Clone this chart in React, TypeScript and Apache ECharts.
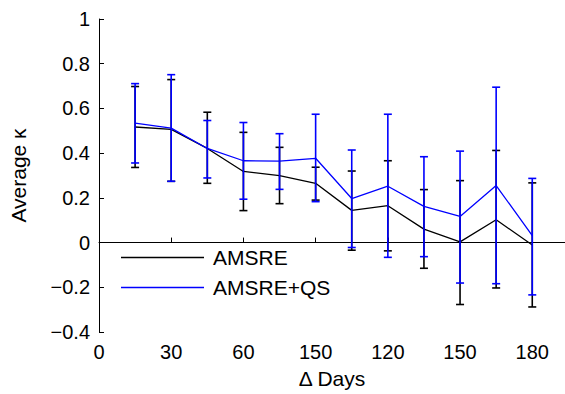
import React, { useEffect, useRef } from "react";
import * as echarts from "echarts";

const days = [15, 30, 45, 60, 75, 90, 105, 120, 135, 150, 165, 180];
const amsre = [0.517, 0.506, 0.421, 0.318, 0.299, 0.265, 0.144, 0.165, 0.06, 0.003, 0.102, -0.011];
const amsreLow = [0.336, 0.274, 0.265, 0.143, 0.174, 0.19, -0.034, -0.037, -0.115, -0.277, -0.203, -0.288];
const amsreHigh = [0.698, 0.729, 0.583, 0.493, 0.426, 0.337, 0.32, 0.366, 0.237, 0.277, 0.412, 0.267];
const amsreQs = [0.534, 0.512, 0.421, 0.366, 0.364, 0.377, 0.197, 0.252, 0.162, 0.117, 0.255, 0.031];
const amsreQsLow = [0.356, 0.274, 0.289, 0.194, 0.238, 0.183, -0.022, -0.066, -0.063, -0.181, -0.184, -0.234];
const amsreQsHigh = [0.711, 0.751, 0.546, 0.537, 0.487, 0.574, 0.414, 0.574, 0.384, 0.409, 0.695, 0.287];
const xTickValues = [0, 30, 60, 90, 120, 150, 180];
const xTickLabels = ["0", "30", "60", "150", "120", "150", "180"];

const FONT = "Liberation Sans";

function errorSeries(name: string, low: number[], high: number[], color: string, z: number) {
  return {
    type: "custom",
    name,
    z,
    data: days.map((d, i) => [d, low[i], high[i]]),
    renderItem: (params: any, api: any) => {
      const x = api.value(0);
      const lo = api.coord([x, api.value(1)]);
      const hi = api.coord([x, api.value(2)]);
      const hw = 4;
      const style = { stroke: color, lineWidth: 1.6 };
      return {
        type: "group",
        children: [
          { type: "line", shape: { x1: lo[0], y1: lo[1], x2: hi[0], y2: hi[1] }, style },
          { type: "line", shape: { x1: lo[0] - hw, y1: lo[1], x2: lo[0] + hw, y2: lo[1] }, style },
          { type: "line", shape: { x1: hi[0] - hw, y1: hi[1], x2: hi[0] + hw, y2: hi[1] }, style },
        ],
      };
    },
  };
}

export default function App() {
  const ref = useRef<HTMLDivElement>(null);
  useEffect(() => {
    if (!ref.current) return;
    const chart = echarts.init(ref.current, undefined, { renderer: "svg" });
    chart.setOption({
      animation: false,
      backgroundColor: "#fff",
      textStyle: { fontFamily: FONT },
      grid: { left: 96, right: 0, top: 19, bottom: 58, containLabel: false },
      legend: {
        data: [
          { name: "AMSRE", icon: "rect" },
          { name: "AMSRE+QS", icon: "rect" },
        ],
        orient: "vertical",
        left: 121,
        top: 247,
        padding: 0,
        itemWidth: 83,
        itemHeight: 1.3,
        itemGap: 9,
        textStyle: { fontFamily: FONT, fontSize: 21, color: "#000", padding: [0, 0, 0, 4] },
        selectedMode: false,
      },
      xAxis: {
        type: "value",
        min: 0,
        max: 193.6,
        interval: 30,
        name: "Δ Days",
        nameLocation: "middle",
        nameGap: 36,
        nameTextStyle: { fontFamily: FONT, fontSize: 21, color: "#000" },
        axisLine: { show: true, lineStyle: { color: "#000", width: 1 } },
        axisTick: { show: true, inside: true, length: 5, lineStyle: { color: "#000" } },
        splitLine: { show: false },
        axisLabel: {
          fontFamily: FONT,
          fontSize: 20,
          color: "#000",
          margin: 10,
          showMaxLabel: false,
          formatter: (v: number) => {
            const i = xTickValues.indexOf(v);
            return i >= 0 ? xTickLabels[i] : "";
          },
        },
      },
      yAxis: {
        type: "value",
        min: -0.4,
        max: 1,
        interval: 0.2,
        name: "Average κ",
        nameLocation: "middle",
        nameGap: 70,
        nameTextStyle: { fontFamily: FONT, fontSize: 21, color: "#000" },
        axisLine: { show: true, lineStyle: { color: "#000", width: 1 } },
        axisTick: { show: true, inside: true, length: 5, lineStyle: { color: "#000" } },
        splitLine: { show: false },
        axisLabel: {
          fontFamily: FONT,
          fontSize: 20,
          color: "#000",
          margin: 9,
          formatter: (v: number) => {
            const r = Math.round(v * 10) / 10;
            if (r === 0) return "0";
            if (r === 1) return "1";
            return r < 0 ? "\u2212" + Math.abs(r).toFixed(1) : r.toFixed(1);
          },
        },
      },
      series: [
        {
          type: "line",
          name: "AMSRE",
          data: days.map((d, i) => [d, amsre[i]]),
          symbol: "none",
          showSymbol: false,
          lineStyle: { color: "#000", width: 1.3 },
          itemStyle: { color: "#000" },
          z: 2,
        },
        errorSeries("AMSRE err", amsreLow, amsreHigh, "#000", 2),
        {
          type: "line",
          name: "AMSRE+QS",
          data: days.map((d, i) => [d, amsreQs[i]]),
          symbol: "none",
          showSymbol: false,
          lineStyle: { color: "#0000ff", width: 1.3 },
          itemStyle: { color: "#0000ff" },
          z: 3,
        },
        errorSeries("AMSRE+QS err", amsreQsLow, amsreQsHigh, "#0000ff", 3),
      ],
    });
    return () => chart.dispose();
  }, []);
  return <div ref={ref} style={{ width: 565, height: 394, position: "absolute", left: 0, top: 0 }} />;
}
